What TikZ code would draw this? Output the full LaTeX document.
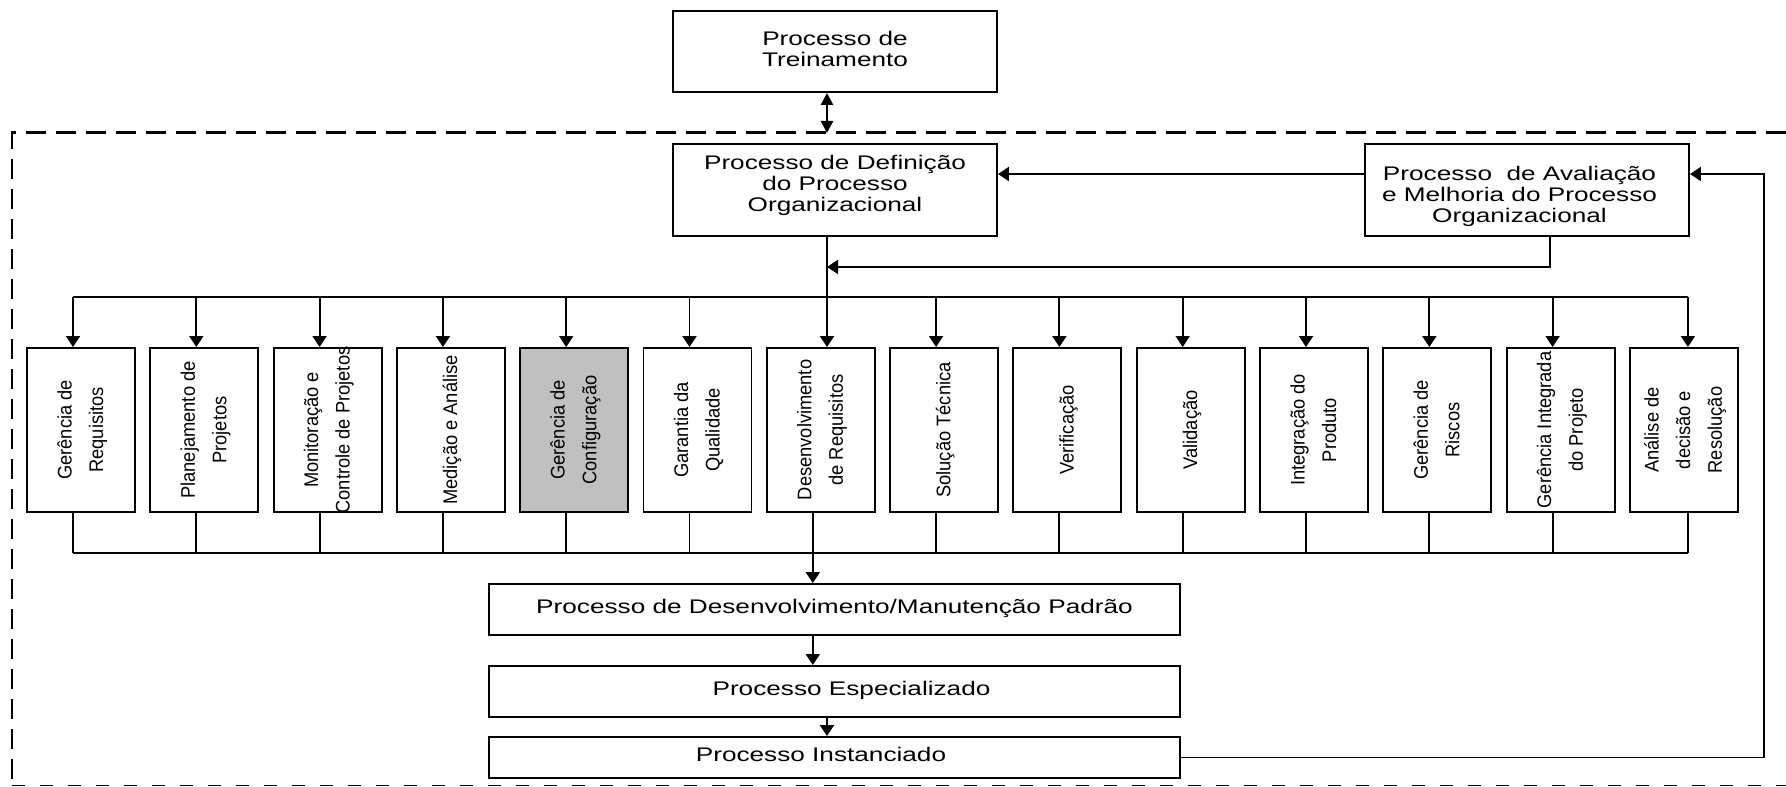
\documentclass[tikz,border=0pt]{standalone}
\usepackage{fontspec}
\setmainfont{Liberation Sans}
\usetikzlibrary{arrows.meta}
\definecolor{boxgray}{RGB}{192,192,192}

\begin{document}
\begin{tikzpicture}[
    box/.style={draw, line width=1.1pt, minimum width=6.48cm, inner sep=0pt},
    smallbox/.style={draw, line width=1.1pt, minimum width=2.16cm, minimum height=3.28cm, inner sep=0pt},
    widebox/.style={draw, line width=1.1pt, minimum width=13.82cm, inner sep=0pt},
    vtext/.style={rotate=90, inner sep=0pt, font=\fontsize{11.2}{18}\selectfont},
    conn/.style={line width=1.1pt},
    arr/.style={conn, -{Triangle[length=0.22cm, width=0.28cm]}},
    font=\fontsize{11.2}{12}\selectfont]
    \def\htext#1{\scalebox{1.33}[1]{\begin{tabular}{@{}c@{}}#1\end{tabular}}}
    \def\vlabel#1{\scalebox{0.93}[1]{\begin{tabular}{@{}c@{}}#1\end{tabular}}}
    \useasboundingbox (0,0) rectangle (35.72,15.74);

    % moldura tracejada
    \draw[line width=1.7pt, dash pattern=on 0.4cm off 0.2cm] (35.72,13.08) -- (0.24,13.08) -- (0.24,0);
    \draw[line width=1.1pt, dash pattern=on 0.26cm off 0.3cm] (0.24,0.03) -- (35.72,0.03);

    \node[box, minimum height=1.62cm] (trein) at (16.70,14.71) {\htext{Processo de\\Treinamento}};
    \node[box, minimum height=1.84cm] (defin) at (16.70,11.94) {\raisebox{0.07cm}[\height][\depth]{\htext{Processo de Definição\\do Processo\\Organizacional}}};
    \node[box, minimum height=1.84cm] (aval) at (30.54,11.94) {\raisebox{-0.14cm}[\height][\depth]{\htext{Processo\ \ de Avaliação\\e Melhoria do Processo\\Organizacional}}\hspace*{0.3cm}};

    \coordinate (dtop) at (16.54,13.08);
    \coordinate (trunk) at ([xshift=-0.16cm]defin.south);
    \coordinate (bustop) at (0,9.80);
    \coordinate (busbot) at (0,4.68);
    \coordinate (retaval) at (0,10.40);
    \coordinate (ret) at (35.28,0);

    \draw[line width=1.4pt, {Triangle[length=0.24cm, width=0.24cm]}-{Triangle[length=0.24cm, width=0.24cm]}] ([xshift=-0.16cm]trein.south) -- (dtop);

    % areas de processo
    \foreach \txt/\col [count=\i] in {
        {Gerência de\\Requisitos}/white,
        {Planejamento de\\Projetos}/white,
        {Monitoração e\\Controle de Projetos}/white,
        {Medição e Análise}/white,
        {Gerência de\\Configuração}/boxgray,
        {Garantia da\\Qualidade}/white,
        {Desenvolvimento\\de Requisitos}/white,
        {Solução Técnica}/white,
        {Verificação}/white,
        {Validação}/white,
        {Integração do\\Produto}/white,
        {Gerência de\\Riscos}/white,
        {Gerência Integrada\\do Projeto}/white,
        {Análise de\\decisão e\\Resolução}/white}
    {
        \node[smallbox, fill=\col] (b\i) at ({1.62+2.466*(\i-1)},7.14) {};
        \node[vtext] at (b\i) {\vlabel{\txt}};
        \pgfmathsetmacro\dx{ifthenelse(\i==14,0.08,-0.16)}
        \coordinate (p\i) at ([xshift=\dx cm]b\i.north);
        \coordinate (q\i) at ([xshift=\dx cm]b\i.south);
        \ifnum\i=7\else
            \draw[arr] (p\i |- bustop) -- (p\i);
        \fi
        \draw[conn] (q\i) -- (q\i |- busbot);
    }
    \draw[conn] (p1 |- bustop) -- (p14 |- bustop);
    \draw[conn] (q1 |- busbot) -- (q14 |- busbot);
    \draw[arr] (trunk) -- (trunk |- b7.north);

    \draw[arr] ([yshift=0.32cm]aval.west) -- ([yshift=0.32cm]defin.east);
    \draw[arr] ([xshift=0.46cm]aval.south) |- (trunk |- retaval);

    \node[widebox, minimum height=1.02cm] (padrao) at (16.69,3.55) {\htext{Processo de Desenvolvimento/Manutenção Padrão}};
    \node[widebox, minimum height=1.02cm] (espec) at (16.69,1.91) {\hspace*{0.68cm}\htext{Processo Especializado}};
    \node[widebox, minimum height=0.82cm] (inst) at (16.69,0.59) {\htext{Processo Instanciado}\hspace*{0.54cm}};

    \draw[arr] (q7 |- busbot) -- (q7 |- padrao.north);
    \draw[arr] (q7 |- padrao.south) -- (q7 |- espec.north);
    \draw[arr] (trunk |- espec.south) -- (trunk |- inst.north);
    \draw[arr] (inst.east) -- (inst.east -| ret) |- ([yshift=0.32cm]aval.east);
\end{tikzpicture}
\end{document}
